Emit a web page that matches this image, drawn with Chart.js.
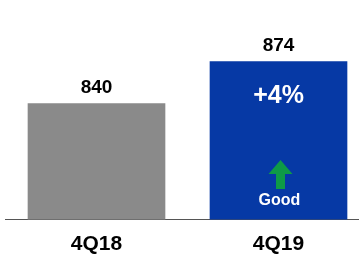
<!DOCTYPE html>
<html>
<head>
<meta charset="utf-8">
<script src="https://cdn.jsdelivr.net/npm/chart.js@4.4.0/dist/chart.umd.min.js"></script>
<style>
  html, body { margin: 0; padding: 0; background: #fff; overflow: hidden; }
  #wrap { width: 375px; height: 259px; }
</style>
</head>
<body>
<div id="wrap"><canvas id="chart" width="375" height="259"></canvas></div>
<script>
// Quarterly comparison - two bars, value on top, change badge in the latest bar

const quarters = ['4Q18', '4Q19'];
const values = [840, 874];
const barColors = ['#8a8a8a', '#0639a5'];
const verdict = 'Good';

const change = Math.round((values[1] - values[0]) / values[0] * 100);
const changeLabel = (change >= 0 ? '+' : '') + change + '%';

const FONT = '"Liberation Sans", Arial, sans-serif';

const labelsPlugin = {
  id: 'barLabels',
  afterDatasetsDraw(chart) {
    const { ctx } = chart;
    const bars = chart.getDatasetMeta(0).data;
    const bottom = chart.chartArea.bottom;
    ctx.save();
    ctx.textAlign = 'center';
    ctx.textBaseline = 'middle';

    // values above bars
    ctx.fillStyle = '#000';
    ctx.font = 'bold 19px ' + FONT;
    bars.forEach((bar, i) => ctx.fillText(values[i], bar.x, bar.y - 15.5));

    // change badge inside the latest bar
    const last = bars[bars.length - 1];
    ctx.fillStyle = '#fff';
    ctx.font = 'bold 25px ' + FONT;
    ctx.fillText(changeLabel, last.x, last.y + 34.5);

    // green up arrow
    const ax = last.x + 2;
    const tip = bottom - 59.5;
    ctx.fillStyle = '#0e9a47';
    ctx.beginPath();
    ctx.moveTo(ax, tip);
    ctx.lineTo(ax + 12, tip + 14);
    ctx.lineTo(ax + 4.5, tip + 14);
    ctx.lineTo(ax + 4.5, tip + 29);
    ctx.lineTo(ax - 4.5, tip + 29);
    ctx.lineTo(ax - 4.5, tip + 14);
    ctx.lineTo(ax - 12, tip + 14);
    ctx.closePath();
    ctx.fill();

    ctx.fillStyle = '#fff';
    ctx.font = 'bold 16px ' + FONT;
    ctx.fillText(verdict, last.x + 1, bottom - 18.5);
    ctx.restore();
  }
};

new Chart(document.getElementById('chart'), {
  type: 'bar',
  data: {
    labels: quarters,
    datasets: [{
      data: values,
      backgroundColor: barColors,
      borderWidth: 0,
      barThickness: 137
    }]
  },
  options: {
    responsive: false,
    animation: false,
    layout: { padding: { left: 5.5, right: 5.5, top: 0, bottom: 0 } },
    plugins: {
      legend: { display: false },
      tooltip: { enabled: false }
    },
    scales: {
      y: {
        display: false,
        min: 746,
        max: 924
      },
      x: {
        grid: { display: false, drawTicks: false },
        border: { display: true, color: '#555555', width: 1 },
        ticks: {
          color: '#000',
          padding: 12,
          maxRotation: 0,
          font: { family: FONT, size: 21, weight: 'bold' }
        },
        afterFit(scale) { scale.height = 39.5; }
      }
    }
  },
  plugins: [labelsPlugin]
});
</script>
</body>
</html>
